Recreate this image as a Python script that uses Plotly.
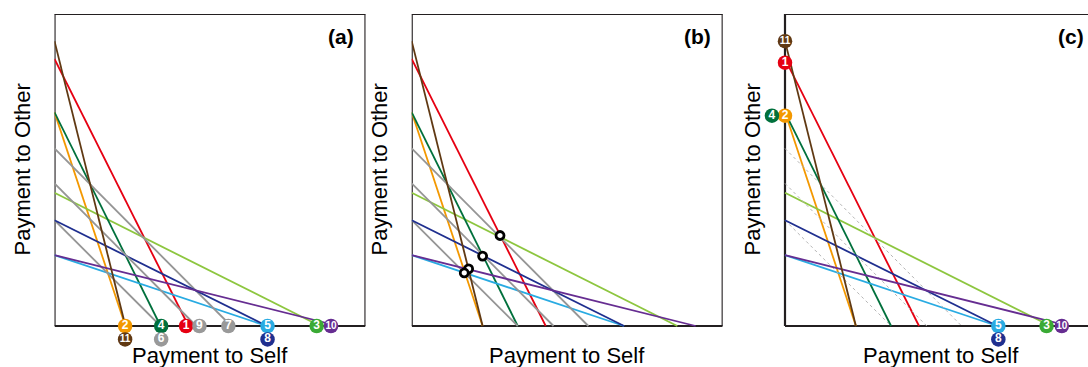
import plotly.graph_objects as go

# Eleven allocation options: each budget line runs from (0, other_max) to (self_max, 0)
option_ids = [1, 2, 3, 4, 5, 6, 7, 8, 9, 10, 11]
line_colors = ["#e60012", "#f39800", "#8dc63f", "#00703c", "#29abe2", "#959595",
               "#959595", "#1f2f8f", "#959595", "#662d91", "#603913"]
marker_colors = ["#e60012", "#f39800", "#3aaa35", "#00703c", "#29abe2", "#999999",
                 "#999999", "#1f2f8f", "#999999", "#662d91", "#603913"]
other_max = [0.856, 0.685, 0.427, 0.685, 0.227, 0.339, 0.569, 0.339, 0.457, 0.227, 0.913]
self_max = [0.431, 0.228, 0.854, 0.341, 0.683, 0.341, 0.568, 0.683, 0.456, 0.913, 0.228]
gray_ids = [6, 7, 9]

# Numbered badges, panel (a): payment-to-self intercepts
a_badge_ids = [2, 4, 1, 9, 7, 5, 3, 10, 11, 6, 8]
a_badge_x = [0.227, 0.343, 0.423, 0.466, 0.559, 0.685, 0.843, 0.889, 0.227, 0.343, 0.685]
a_badge_y = [0, 0, 0, 0, 0, 0, 0, 0, -0.043, -0.043, -0.043]

# Numbered badges, panel (c): both intercepts for the coloured options
c_badge_ids = [11, 1, 2, 4, 5, 8, 3, 10]
c_badge_x = [0, 0, 0, -0.042, 0.686, 0.686, 0.841, 0.890]
c_badge_y = [0.913, 0.844, 0.674, 0.674, 0, -0.043, 0, 0]

# Panel (b): equal-split crossing points
ring_x = [0.284, 0.228, 0.183, 0.169]
ring_y = [0.290, 0.224, 0.183, 0.170]

FONT = "Liberation Sans, Arial, sans-serif"
W, H = 1088, 367
TOP, BOT = 14, 19                      # figure margins in px
UNIT_X, UNIT_Y = 311.0, 312.0          # px per unit payment
Y_LOW = -((H - TOP - BOT) / UNIT_Y - 1.0)
PLOT_BOTTOM_PX = H - BOT
C_LEFT = -0.06

panels = [
    ("x", "y", [54.5 / W, (54.5 + UNIT_X) / W], [0, 1], "(a)", 21.5),
    ("x2", "y2", [411.7 / W, (411.7 + UNIT_X) / W], [0, 1], "(b)", 378.5),
    ("x3", "y3", [(785.0 + C_LEFT * UNIT_X) / W, 1.0],
     [C_LEFT, (W - 785.0) / UNIT_X], "(c)", 751.5),
]

fig = go.Figure()


def budget_lines(xa, ya, dashed_gray=False):
    for i, oid in enumerate(option_ids):
        if dashed_gray and oid in gray_ids:
            line = dict(color="#b5b5b5", width=1, dash="3px,3px")
        else:
            line = dict(color=line_colors[i], width=1.8)
        fig.add_trace(go.Scatter(
            x=[0, self_max[i]], y=[other_max[i], 0], mode="lines", line=line,
            xaxis=xa, yaxis=ya, hoverinfo="skip", showlegend=False, cliponaxis=False))


def badges(ids, xs, ys, xa, ya):
    cols = [marker_colors[option_ids.index(k)] for k in ids]
    sizes = [10 if k >= 10 else 12 for k in ids]
    fig.add_trace(go.Scatter(
        x=xs, y=ys, mode="markers+text", text=[str(k) for k in ids],
        textposition="middle center",
        textfont=dict(color="white", size=sizes, family=FONT, weight="bold"),
        marker=dict(size=14.5, color=cols, line=dict(width=0)),
        xaxis=xa, yaxis=ya, hoverinfo="skip", showlegend=False, cliponaxis=False))


budget_lines("x", "y")
badges(a_badge_ids, a_badge_x, a_badge_y, "x", "y")

budget_lines("x2", "y2")
fig.add_trace(go.Scatter(
    x=ring_x, y=ring_y, mode="markers",
    marker=dict(size=8, color="white", line=dict(color="black", width=2.8)),
    xaxis="x2", yaxis="y2", hoverinfo="skip", showlegend=False, cliponaxis=False))

budget_lines("x3", "y3", dashed_gray=True)
badges(c_badge_ids, c_badge_x, c_badge_y, "x3", "y3")

annotations, shapes, layout_axes = [], [], {}
frame = dict(color="#231f20", width=2.2)
for k, (xa, ya, dom, xr, tag, ytitle_px) in enumerate(panels):
    sfx = "" if k == 0 else str(k + 1)
    layout_axes["xaxis" + sfx] = dict(
        domain=dom, range=xr, anchor=ya, showgrid=False, zeroline=False,
        showticklabels=False, ticks="", showline=False, fixedrange=True)
    layout_axes["yaxis" + sfx] = dict(
        domain=[0, 1], range=[Y_LOW, 1], anchor=xa, showgrid=False, zeroline=False,
        showticklabels=False, ticks="", showline=False, fixedrange=True)
    # plot frame: full box for (a)/(b); (c) runs off the right edge
    right = 1.0 if k < 2 else 1.2
    for (x0, y0, x1, y1) in [(0, 0, right, 0), (0, 1, right, 1), (0, 0, 0, 1)]:
        shapes.append(dict(type="line", xref=xa, yref=ya, x0=x0, y0=y0, x1=x1, y1=y1,
                           line=frame, layer="below"))
    if k < 2:
        shapes.append(dict(type="line", xref=xa, yref=ya, x0=1, y0=0, x1=1, y1=1,
                           line=frame, layer="below"))
    annotations.append(dict(
        text="<b>" + tag + "</b>", xref=xa, yref=ya, x=0.969, y=0.928,
        xanchor="right", yanchor="middle", showarrow=False,
        font=dict(family=FONT, size=21, color="black")))
    annotations.append(dict(
        text="Payment to Self", xref=xa, yref="paper", x=0.5,
        y=(PLOT_BOTTOM_PX - 355) / (H - TOP - BOT),
        xanchor="center", yanchor="middle", showarrow=False,
        font=dict(family=FONT, size=22, color="black")))
    annotations.append(dict(
        text="Payment to Other", xref="paper", yref="paper", x=ytitle_px / W,
        y=(PLOT_BOTTOM_PX - 170) / (H - TOP - BOT),
        xanchor="center", yanchor="middle", textangle=-90, showarrow=False,
        font=dict(family=FONT, size=22, color="black")))

fig.update_layout(
    width=W, height=H, margin=dict(l=0, r=0, t=TOP, b=BOT),
    paper_bgcolor="white", plot_bgcolor="white",
    annotations=annotations, shapes=shapes, **layout_axes)

fig.write_html("out.html")
